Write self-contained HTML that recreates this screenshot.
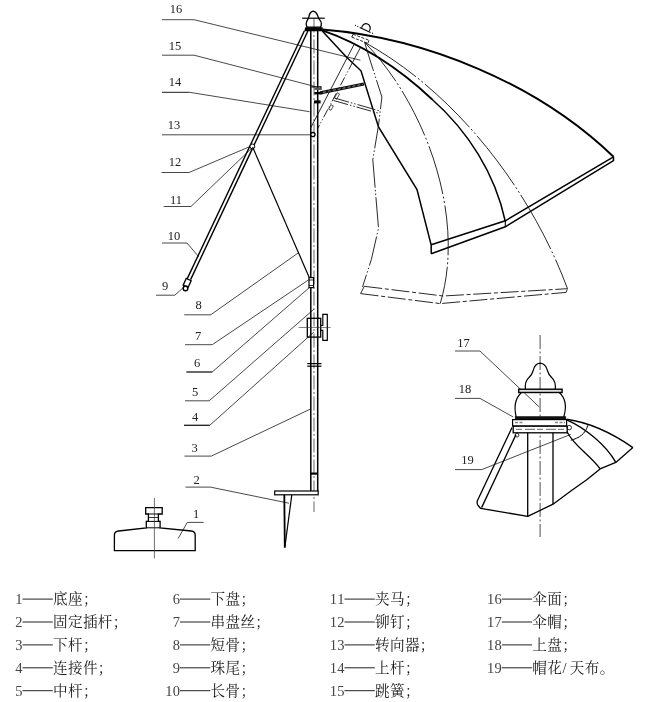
<!DOCTYPE html>
<html><head><meta charset="utf-8"><title>Umbrella diagram</title>
<style>
html,body{margin:0;padding:0;background:#fff;}
body{width:659px;height:702px;overflow:hidden;font-family:"Liberation Serif",serif;}
svg{display:block;}
svg text{font-family:"Liberation Serif",serif;}
svg text.cjk{font-family:"Liberation Serif","Noto Serif CJK SC",serif;}
svg{filter:grayscale(1);}
</style></head><body>
<svg role="img" aria-label="Umbrella structure diagram with numbered parts" width="659" height="702" viewBox="0 0 659 702">
<rect width="659" height="702" fill="#fff"/>
<text x="176" y="13" font-size="12.5" text-anchor="middle" fill="#222" letter-spacing="0" >16</text>
<path d="M162.0 19.7 L194.0 19.7" stroke="#1a1a1a" stroke-width="0.8" fill="none" />
<path d="M194.0 19.7 L360.4 60.2" stroke="#1a1a1a" stroke-width="0.8" fill="none" />
<text x="175" y="49.5" font-size="12.5" text-anchor="middle" fill="#222" letter-spacing="0" >15</text>
<path d="M162.0 55.2 L194.0 55.2" stroke="#1a1a1a" stroke-width="0.8" fill="none" />
<path d="M194.0 55.2 L315.0 86.5" stroke="#1a1a1a" stroke-width="0.8" fill="none" />
<text x="175" y="86" font-size="12.5" text-anchor="middle" fill="#222" letter-spacing="0" >14</text>
<path d="M162.0 92.3 L189.5 92.3" stroke="#1a1a1a" stroke-width="1.0" fill="none" />
<path d="M189.5 92.3 L309.5 111.7" stroke="#1a1a1a" stroke-width="0.8" fill="none" />
<text x="174" y="128.5" font-size="12.5" text-anchor="middle" fill="#222" letter-spacing="0" >13</text>
<path d="M162.0 134.8 L189.0 134.8" stroke="#1a1a1a" stroke-width="0.8" fill="none" />
<path d="M189.0 134.8 L311.0 134.8" stroke="#1a1a1a" stroke-width="0.8" fill="none" />
<text x="175" y="165.5" font-size="12.5" text-anchor="middle" fill="#222" letter-spacing="0" >12</text>
<path d="M161.5 172.5 L189.0 172.5" stroke="#1a1a1a" stroke-width="0.8" fill="none" />
<path d="M189.0 172.5 L251.7 145.8" stroke="#1a1a1a" stroke-width="0.8" fill="none" />
<text x="176" y="204" font-size="12.5" text-anchor="middle" fill="#222" letter-spacing="0" >11</text>
<path d="M163.7 206.5 L191.0 206.5" stroke="#1a1a1a" stroke-width="0.8" fill="none" />
<path d="M191.0 206.5 L252.6 147.3" stroke="#1a1a1a" stroke-width="0.8" fill="none" />
<text x="174" y="239.5" font-size="12.5" text-anchor="middle" fill="#222" letter-spacing="0" >10</text>
<path d="M162.0 243.0 L187.0 243.0" stroke="#1a1a1a" stroke-width="0.8" fill="none" />
<path d="M187.0 243.0 L198.6 256.6" stroke="#1a1a1a" stroke-width="0.8" fill="none" />
<text x="165" y="290" font-size="12.5" text-anchor="middle" fill="#222" letter-spacing="0" >9</text>
<path d="M156.0 295.2 L174.8 295.2" stroke="#1a1a1a" stroke-width="0.8" fill="none" />
<path d="M174.8 295.2 L182.8 288.0" stroke="#1a1a1a" stroke-width="0.8" fill="none" />
<text x="198.6" y="309" font-size="12.5" text-anchor="middle" fill="#222" letter-spacing="0" >8</text>
<path d="M184.3 314.8 L210.7 314.8" stroke="#1a1a1a" stroke-width="0.8" fill="none" />
<path d="M210.7 314.8 L298.7 252.6" stroke="#1a1a1a" stroke-width="0.8" fill="none" />
<text x="198" y="340" font-size="12.5" text-anchor="middle" fill="#222" letter-spacing="0" >7</text>
<path d="M185.0 344.7 L212.2 344.7" stroke="#1a1a1a" stroke-width="0.8" fill="none" />
<path d="M212.2 344.7 L309.3 279.4" stroke="#1a1a1a" stroke-width="0.8" fill="none" />
<text x="197" y="366.5" font-size="12.5" text-anchor="middle" fill="#222" letter-spacing="0" >6</text>
<path d="M186.4 372.0 L212.2 372.0" stroke="#1a1a1a" stroke-width="1.3" fill="none" />
<path d="M212.2 372.0 L310.0 287.0" stroke="#1a1a1a" stroke-width="0.8" fill="none" />
<text x="195" y="395.5" font-size="12.5" text-anchor="middle" fill="#222" letter-spacing="0" >5</text>
<path d="M185.0 400.8 L209.2 400.8" stroke="#1a1a1a" stroke-width="0.8" fill="none" />
<path d="M209.2 400.8 L313.9 309.2" stroke="#1a1a1a" stroke-width="0.8" fill="none" />
<text x="195" y="420.5" font-size="12.5" text-anchor="middle" fill="#222" letter-spacing="0" >4</text>
<path d="M184.0 425.3 L209.8 425.3" stroke="#1a1a1a" stroke-width="1.3" fill="none" />
<path d="M209.8 425.3 L313.9 332.0" stroke="#1a1a1a" stroke-width="0.8" fill="none" />
<text x="194.6" y="452" font-size="12.5" text-anchor="middle" fill="#222" letter-spacing="0" >3</text>
<path d="M184.5 456.1 L211.3 456.1" stroke="#1a1a1a" stroke-width="0.8" fill="none" />
<path d="M211.3 456.1 L310.5 409.0" stroke="#1a1a1a" stroke-width="0.8" fill="none" />
<text x="196.7" y="483.5" font-size="12.5" text-anchor="middle" fill="#222" letter-spacing="0" >2</text>
<path d="M185.5 487.1 L210.3 487.1" stroke="#1a1a1a" stroke-width="0.8" fill="none" />
<path d="M210.3 487.1 L288.9 503.2" stroke="#1a1a1a" stroke-width="0.8" fill="none" />
<text x="196.2" y="517.5" font-size="12.5" text-anchor="middle" fill="#222" letter-spacing="0" >1</text>
<path d="M203.7 522.4 L187.3 522.4" stroke="#1a1a1a" stroke-width="0.8" fill="none" />
<path d="M187.3 522.4 L178.2 538.4" stroke="#1a1a1a" stroke-width="0.8" fill="none" />
<text x="463.4" y="347" font-size="12.5" text-anchor="middle" fill="#222" letter-spacing="0" >17</text>
<path d="M455.0 351.0 L480.0 351.0" stroke="#1a1a1a" stroke-width="0.8" fill="none" />
<path d="M480.0 351.0 L539.3 407.0" stroke="#1a1a1a" stroke-width="0.8" fill="none" />
<text x="465" y="393" font-size="12.5" text-anchor="middle" fill="#222" letter-spacing="0" >18</text>
<path d="M455.0 398.4 L480.0 398.4" stroke="#1a1a1a" stroke-width="0.8" fill="none" />
<path d="M480.0 398.4 L513.2 417.0" stroke="#1a1a1a" stroke-width="0.8" fill="none" />
<text x="467.6" y="464" font-size="12.5" text-anchor="middle" fill="#222" letter-spacing="0" >19</text>
<path d="M455.0 469.6 L481.8 469.6" stroke="#1a1a1a" stroke-width="0.8" fill="none" />
<path d="M481.8 469.6 L570.7 434.4" stroke="#1a1a1a" stroke-width="0.8" fill="none" />
<path d="M310.8 30.0 L310.8 491.0" stroke="#000" stroke-width="1.5" fill="none" />
<path d="M317.7 30.0 L317.7 491.0" stroke="#000" stroke-width="1.5" fill="none" />
<path d="M314.0 18.5 L314.0 512.0" stroke="#555" stroke-width="0.9" fill="none" stroke-dasharray="14 2.5 2 2.5" />
<path d="M313.2 11.1 C311 11.3 309.9 13 309.3 15 C308.9 16.5 308.8 17.3 308.5 18.2 C307.5 20 306.2 21.5 306.2 23.5 C306.2 25.2 306.6 26.3 307.1 27.2 L320.5 27.2 C321 26.3 321.4 25.2 321.4 23.5 C321.4 21.5 320 20 318.6 18.2 C318.2 17.3 318 16.5 317.4 15 C316.6 13 315.4 11.3 313.2 11.1 Z" stroke="#000" stroke-width="1.3" fill="none" />
<path d="M302.2 18.2 L324.8 18.2" stroke="#000" stroke-width="1.2" fill="none" />
<path d="M305.3 27.2 L322.7 27.2 L322.7 31.3 L304.2 31.3 Z" stroke="#000" stroke-width="0" fill="#000" />
<path d="M304.3 31.0 L186.8 279.6" stroke="#000" stroke-width="1.4" fill="none" />
<path d="M307.9 31.0 L190.6 279.6" stroke="#000" stroke-width="1.4" fill="none" />
<rect x="-2.7" y="0" width="5.4" height="7.4" transform="translate(188.7,279.6) rotate(24.5)" fill="#fff" stroke="#000" stroke-width="1.3"/>
<circle cx="185.5" cy="288.4" r="2.3" fill="#fff" stroke="#000" stroke-width="1.5"/>
<circle cx="252.4" cy="146.4" r="2.4" fill="#fff" stroke="#000" stroke-width="1"/>
<path d="M252.6 147.0 L310.0 279.3" stroke="#000" stroke-width="1.2" fill="none" />
<rect x="309" y="277.6" width="4.6" height="10" fill="#fff" stroke="#000" stroke-width="1.2"/>
<path d="M309.0 280.0 L313.6 280.0" stroke="#000" stroke-width="0.8" fill="none" />
<path d="M309.0 285.5 L313.6 285.5" stroke="#000" stroke-width="0.8" fill="none" />
<circle cx="312.9" cy="134.6" r="2.1" fill="#fff" stroke="#000" stroke-width="1.3"/>
<path d="M311.4 86.9 L320.9 86.9 L320.9 90.0" stroke="#000" stroke-width="1.3" fill="none" />
<rect x="314.4" y="87.6" width="6.5" height="2.3" fill="#555"/>
<rect x="314.4" y="92" width="8" height="2.4" fill="#000"/>
<rect x="314" y="100.4" width="6.6" height="3" fill="#000"/>
<path d="M320.0 92.9 L364.0 84.0" stroke="#111" stroke-width="3.2" fill="none" />
<path d="M323.0 92.3 L363.0 84.2" stroke="#aaa" stroke-width="0.8" fill="none" stroke-dasharray="3 2" />
<rect x="307.3" y="318.3" width="13.4" height="18.8" fill="none" stroke="#000" stroke-width="1.3"/>
<path d="M320.7 325.5 L322.8 325.5 L322.8 314.4 L327.3 314.4 L327.3 340.4 L322.8 340.4 L322.8 330.4 L320.7 330.4" stroke="#000" stroke-width="1.2" fill="none" />
<path d="M298.7 327.5 L330.6 327.5" stroke="#333" stroke-width="0.6" fill="none" />
<path d="M307.2 363.6 L321.5 363.6" stroke="#000" stroke-width="1.2" fill="none" />
<path d="M307.2 366.2 L321.5 366.2" stroke="#000" stroke-width="1.2" fill="none" />
<path d="M310.8 473.6 L317.7 473.6" stroke="#000" stroke-width="2.2" fill="none" />
<rect x="274.7" y="491" width="43.5" height="3.8" fill="#fff" stroke="#000" stroke-width="1.2"/>
<path d="M284.3 494.8 L284.8 547.6" stroke="#000" stroke-width="1.8" fill="none" />
<path d="M291.8 494.8 L284.8 547.6" stroke="#000" stroke-width="1.2" fill="none" />
<path d="M114.4 550.6 L114.4 535 Q114.4 531.5 118.7 531 L146.3 527.8 L146.3 521.4 L148.4 521.4 L148.4 514 L145.7 514 L145.7 507.6 L162.2 507.6 L162.2 514 L158.4 514 L158.4 521.4 L160.1 521.4 L160.1 527.8 L191.3 531 Q195.2 531.5 195.2 535 L195.2 550.6 Z" stroke="#000" stroke-width="1.3" fill="none" />
<path d="M148.4 514.0 L158.4 514.0" stroke="#000" stroke-width="1.0" fill="none" />
<path d="M148.4 517.5 L158.4 517.5" stroke="#000" stroke-width="0.8" fill="none" />
<path d="M146.3 521.4 L160.1 521.4" stroke="#000" stroke-width="1.0" fill="none" />
<path d="M146.3 527.8 L160.1 527.8" stroke="#000" stroke-width="1.0" fill="none" />
<path d="M154.4 498.0 L154.4 558.4" stroke="#333" stroke-width="0.7" fill="none" />
<path d="M322.3 29.5 C426.8 37.8 538.2 84.2 613.5 156.8" stroke="#000" stroke-width="1.9" fill="none" />
<path d="M322.3 30.4 C362.8 44.4 400.8 70.0 432.0 99.2" stroke="#000" stroke-width="1.9" fill="none" />
<path d="M432.0 99.2 C467.9 131.0 495.2 173.8 505.2 221.0" stroke="#000" stroke-width="1.5" fill="none" stroke-linecap="round"/>
<path d="M322.3 31.0 L346.6 57.2 L361.0 70.8 L378.5 127.0 L417.0 189.6 L431.2 245.0 L431.2 253.7" stroke="#000" stroke-width="1.5" fill="none" />
<path d="M613.5 156.8 L505.3 220.8 L431.2 244.8" stroke="#000" stroke-width="1.5" fill="none" />
<path d="M613.5 156.8 L613.5 160.6 L505.3 226.8 L431.2 253.7" stroke="#000" stroke-width="1.5" fill="none" />
<path d="M505.3 220.4 L505.3 226.5" stroke="#000" stroke-width="1.1" fill="none" />
<path d="M361.7 27.8 A4.3 4.3 0 1 1 369.3 30.8" stroke="#000" stroke-width="1.2" fill="none" />
<path d="M355.0 25.2 L372.9 33.5" stroke="#000" stroke-width="1.1" fill="none" stroke-dasharray="1 1.6 1 1.6 12 1.6 1 1.6" />
<path d="M353.0 34.2 L369.0 40.3" stroke="#111" stroke-width="0.9" fill="none" stroke-dasharray="3 1.5" />
<path d="M351.8 37.2 L367.8 43.3" stroke="#111" stroke-width="0.9" fill="none" stroke-dasharray="3 1.5" />
<path d="M353.0 34.2 L351.8 37.2" stroke="#111" stroke-width="0.9" fill="none" />
<path d="M369.0 40.3 L367.8 43.3" stroke="#111" stroke-width="0.9" fill="none" />
<path d="M354.0 44.6 L310.4 128.4" stroke="#111" stroke-width="0.9" fill="none" />
<path d="M360.5 47.3 L353.0 61.5" stroke="#111" stroke-width="0.9" fill="none" />
<path d="M353.0 61.5 L317.8 128.4" stroke="#111" stroke-width="0.9" fill="none" stroke-dasharray="9 2.2 1.2 2.2 1.2 2.2" />
<path d="M334.5 98.0 L380.0 111.0" stroke="#111" stroke-width="0.9" fill="none" stroke-dasharray="15 2 1.5 2 1.5 2" />
<path d="M333.5 100.5 L379.5 113.5" stroke="#111" stroke-width="0.9" fill="none" stroke-dasharray="15 2 1.5 2 1.5 2" />
<rect x="-1.3" y="-3" width="2.6" height="6" transform="translate(337,96) rotate(28)" fill="none" stroke="#222" stroke-width="0.7"/>
<rect x="-1.3" y="-2.5" width="2.6" height="5" transform="translate(331,107.5) rotate(28)" fill="none" stroke="#222" stroke-width="0.7"/>
<path d="M364.6 42.3 L370.0 60.0 L381.9 97.0 L378.5 125.5 L372.8 159.7 L378.5 228.1 L371.4 259.4 L362.5 287.0" stroke="#111" stroke-width="0.9" fill="none" stroke-dasharray="30 2.2 1.5 2.2 1.5 2.2" />
<path d="M364.6 42.3 C457.3 93.6 531.1 190.8 567.5 288.7" stroke="#111" stroke-width="0.9" fill="none" stroke-dasharray="62 2.5 2 2.5 2 2.5" />
<path d="M364.6 42.3 C425.7 104.9 466.3 217.2 440.2 303.6" stroke="#111" stroke-width="0.9" fill="none" stroke-dasharray="50 2.5 2 2.5 2 2.5" />
<path d="M364.3 286.3 L443.2 296.0 L567.5 288.7" stroke="#111" stroke-width="0.9" fill="none" stroke-dasharray="18 2.7 4 2.7" />
<path d="M360.6 293.6 L440.2 303.6 L566.0 292.4 L567.5 288.7" stroke="#111" stroke-width="0.9" fill="none" stroke-dasharray="18 2.7 4 2.7" />
<path d="M364.3 286.3 L360.6 293.6" stroke="#111" stroke-width="0.9" fill="none" />
<path d="M540.1 335.0 L540.1 537.0" stroke="#222" stroke-width="0.8" fill="none" stroke-dasharray="14 2.5 2 2.5" />
<path d="M540 363.2 C536.5 363.5 534 367 533 371 C532.3 374 531 375.5 529 377.5 C526 380 524.8 384 525.5 389.5 L555.2 389.5 C555.9 384 554.6 380 551.6 377.5 C549.6 375.5 548.3 374 547.6 371 C546.6 367 544 363.5 540 363.2Z" stroke="#000" stroke-width="1.2" fill="none" />
<rect x="518.7" y="389.2" width="43.4" height="3.3" fill="#ddd" stroke="#000" stroke-width="1.4"/>
<path d="M521.5 392.5 C515.5 398 513.8 407 516.2 417 M559.3 392.5 C565.3 398 566.8 407 563.7 417" stroke="#000" stroke-width="1.2" fill="none" />
<rect x="515.2" y="416.7" width="50.6" height="2.6" fill="#111" stroke="#000" stroke-width="0.6"/>
<rect x="512.6" y="419.6" width="54" height="6.4" fill="#fff" stroke="#000" stroke-width="1.2"/>
<rect x="513.2" y="426.2" width="54" height="6.6" fill="#fff" stroke="#000" stroke-width="1.3"/>
<path d="M515.0 422.5 L524.0 422.5" stroke="#888" stroke-width="1.6" fill="none" stroke-dasharray="3 1.5" />
<path d="M555.0 422.5 L565.0 422.5" stroke="#888" stroke-width="1.6" fill="none" stroke-dasharray="3 1.5" />
<path d="M516.0 429.3 L566.0 429.3" stroke="#666" stroke-width="1.0" fill="none" stroke-dasharray="6 3 10 2" />
<circle cx="517" cy="435.2" r="1.9" fill="#fff" stroke="#000" stroke-width="0.8"/>
<circle cx="569.3" cy="427.6" r="2.2" fill="none" stroke="#000" stroke-width="0.8"/>
<path d="M527.7 432.8 L527.7 516.4" stroke="#000" stroke-width="1.3" fill="none" />
<path d="M553.0 432.8 L553.0 504.2" stroke="#000" stroke-width="1.3" fill="none" />
<path d="M512 427.5 L477.6 500.3 Q476.3 503.5 478.3 505.8 L480.5 508.3 L527.7 516.4 L553 504.2 L572.2 490 L586.4 480 L600.1 468.9 L615.8 462.4 L632.9 447.6" stroke="#000" stroke-width="1.3" fill="none" stroke-linejoin="round"/>
<path d="M516.0 434.6 L481.6 507.6" stroke="#000" stroke-width="1.3" fill="none" />
<path d="M566.6 419.3 C590.2 422.6 613.4 434.1 632.9 447.6" stroke="#000" stroke-width="1.4" fill="none" />
<path d="M566.6 419.8 C584.6 427.5 606.3 445.1 615.8 462.4" stroke="#000" stroke-width="1.3" fill="none" />
<path d="M566.8 431.5 C574.6 446.7 590.3 455.2 600.1 468.9" stroke="#000" stroke-width="1.3" fill="none" />
<path d="M587.8 425.2 C585.4 434.0 579.3 438.1 570.7 440.2" stroke="#000" stroke-width="1.0" fill="none" />
<g aria-label="1——底座；">
<text x="18.75" y="604.1" font-size="14.5" text-anchor="middle" fill="#444" letter-spacing="0" >1</text>
<path d="M22.5 599.1 L52.8 599.1" stroke="#222" stroke-width="1.0" fill="none" />
<text class="cjk" x="52.9" y="604.4" font-size="14.6" letter-spacing="0.4" fill="#1a1a1a">底座；</text>
</g>
<g aria-label="2——固定插杆；">
<text x="18.75" y="627.0" font-size="14.5" text-anchor="middle" fill="#444" letter-spacing="0" >2</text>
<path d="M22.5 622.0 L52.8 622.0" stroke="#222" stroke-width="1.0" fill="none" />
<text class="cjk" x="52.9" y="627.3" font-size="14.6" letter-spacing="0.4" fill="#1a1a1a">固定插杆；</text>
</g>
<g aria-label="3——下杆；">
<text x="18.75" y="649.9" font-size="14.5" text-anchor="middle" fill="#444" letter-spacing="0" >3</text>
<path d="M22.5 644.9 L52.8 644.9" stroke="#222" stroke-width="1.0" fill="none" />
<text class="cjk" x="52.9" y="650.2" font-size="14.6" letter-spacing="0.4" fill="#1a1a1a">下杆；</text>
</g>
<g aria-label="4——连接件；">
<text x="18.75" y="672.8" font-size="14.5" text-anchor="middle" fill="#444" letter-spacing="0" >4</text>
<path d="M22.5 667.8 L52.8 667.8" stroke="#222" stroke-width="1.0" fill="none" />
<text class="cjk" x="52.9" y="673.1" font-size="14.6" letter-spacing="0.4" fill="#1a1a1a">连接件；</text>
</g>
<g aria-label="5——中杆；">
<text x="18.75" y="695.7" font-size="14.5" text-anchor="middle" fill="#444" letter-spacing="0" >5</text>
<path d="M22.5 690.7 L52.8 690.7" stroke="#222" stroke-width="1.0" fill="none" />
<text class="cjk" x="52.9" y="696.0" font-size="14.6" letter-spacing="0.4" fill="#1a1a1a">中杆；</text>
</g>
<g aria-label="6——下盘；">
<text x="176.25" y="604.1" font-size="14.5" text-anchor="middle" fill="#444" letter-spacing="0" >6</text>
<path d="M180.0 599.1 L210.3 599.1" stroke="#222" stroke-width="1.0" fill="none" />
<text class="cjk" x="210.4" y="604.4" font-size="14.6" letter-spacing="0.4" fill="#1a1a1a">下盘；</text>
</g>
<g aria-label="7——串盘丝；">
<text x="176.25" y="627.0" font-size="14.5" text-anchor="middle" fill="#444" letter-spacing="0" >7</text>
<path d="M180.0 622.0 L210.3 622.0" stroke="#222" stroke-width="1.0" fill="none" />
<text class="cjk" x="210.4" y="627.3" font-size="14.6" letter-spacing="0.4" fill="#1a1a1a">串盘丝；</text>
</g>
<g aria-label="8——短骨；">
<text x="176.25" y="649.9" font-size="14.5" text-anchor="middle" fill="#444" letter-spacing="0" >8</text>
<path d="M180.0 644.9 L210.3 644.9" stroke="#222" stroke-width="1.0" fill="none" />
<text class="cjk" x="210.4" y="650.2" font-size="14.6" letter-spacing="0.4" fill="#1a1a1a">短骨；</text>
</g>
<g aria-label="9——珠尾；">
<text x="176.25" y="672.8" font-size="14.5" text-anchor="middle" fill="#444" letter-spacing="0" >9</text>
<path d="M180.0 667.8 L210.3 667.8" stroke="#222" stroke-width="1.0" fill="none" />
<text class="cjk" x="210.4" y="673.1" font-size="14.6" letter-spacing="0.4" fill="#1a1a1a">珠尾；</text>
</g>
<g aria-label="10——长骨；">
<text x="176.25" y="695.7" font-size="14.5" text-anchor="middle" fill="#444" letter-spacing="0" >0</text>
<text x="168.75" y="695.7" font-size="14.5" text-anchor="middle" fill="#444" letter-spacing="0" >1</text>
<path d="M180.0 690.7 L210.3 690.7" stroke="#222" stroke-width="1.0" fill="none" />
<text class="cjk" x="210.4" y="696.0" font-size="14.6" letter-spacing="0.4" fill="#1a1a1a">长骨；</text>
</g>
<g aria-label="11——夹马；">
<text x="340.75" y="604.1" font-size="14.5" text-anchor="middle" fill="#444" letter-spacing="0" >1</text>
<text x="333.25" y="604.1" font-size="14.5" text-anchor="middle" fill="#444" letter-spacing="0" >1</text>
<path d="M344.5 599.1 L374.8 599.1" stroke="#222" stroke-width="1.0" fill="none" />
<text class="cjk" x="374.9" y="604.4" font-size="14.6" letter-spacing="0.4" fill="#1a1a1a">夹马；</text>
</g>
<g aria-label="12——铆钉；">
<text x="340.75" y="627.0" font-size="14.5" text-anchor="middle" fill="#444" letter-spacing="0" >2</text>
<text x="333.25" y="627.0" font-size="14.5" text-anchor="middle" fill="#444" letter-spacing="0" >1</text>
<path d="M344.5 622.0 L374.8 622.0" stroke="#222" stroke-width="1.0" fill="none" />
<text class="cjk" x="374.9" y="627.3" font-size="14.6" letter-spacing="0.4" fill="#1a1a1a">铆钉；</text>
</g>
<g aria-label="13——转向器；">
<text x="340.75" y="649.9" font-size="14.5" text-anchor="middle" fill="#444" letter-spacing="0" >3</text>
<text x="333.25" y="649.9" font-size="14.5" text-anchor="middle" fill="#444" letter-spacing="0" >1</text>
<path d="M344.5 644.9 L374.8 644.9" stroke="#222" stroke-width="1.0" fill="none" />
<text class="cjk" x="374.9" y="650.2" font-size="14.6" letter-spacing="0.4" fill="#1a1a1a">转向器；</text>
</g>
<g aria-label="14——上杆；">
<text x="340.75" y="672.8" font-size="14.5" text-anchor="middle" fill="#444" letter-spacing="0" >4</text>
<text x="333.25" y="672.8" font-size="14.5" text-anchor="middle" fill="#444" letter-spacing="0" >1</text>
<path d="M344.5 667.8 L374.8 667.8" stroke="#222" stroke-width="1.0" fill="none" />
<text class="cjk" x="374.9" y="673.1" font-size="14.6" letter-spacing="0.4" fill="#1a1a1a">上杆；</text>
</g>
<g aria-label="15——跳簧；">
<text x="340.75" y="695.7" font-size="14.5" text-anchor="middle" fill="#444" letter-spacing="0" >5</text>
<text x="333.25" y="695.7" font-size="14.5" text-anchor="middle" fill="#444" letter-spacing="0" >1</text>
<path d="M344.5 690.7 L374.8 690.7" stroke="#222" stroke-width="1.0" fill="none" />
<text class="cjk" x="374.9" y="696.0" font-size="14.6" letter-spacing="0.4" fill="#1a1a1a">跳簧；</text>
</g>
<g aria-label="16——伞面；">
<text x="498.05" y="604.1" font-size="14.5" text-anchor="middle" fill="#444" letter-spacing="0" >6</text>
<text x="490.55" y="604.1" font-size="14.5" text-anchor="middle" fill="#444" letter-spacing="0" >1</text>
<path d="M501.8 599.1 L532.1 599.1" stroke="#222" stroke-width="1.0" fill="none" />
<text class="cjk" x="532.2" y="604.4" font-size="14.6" letter-spacing="0.4" fill="#1a1a1a">伞面；</text>
</g>
<g aria-label="17——伞帽；">
<text x="498.05" y="627.0" font-size="14.5" text-anchor="middle" fill="#444" letter-spacing="0" >7</text>
<text x="490.55" y="627.0" font-size="14.5" text-anchor="middle" fill="#444" letter-spacing="0" >1</text>
<path d="M501.8 622.0 L532.1 622.0" stroke="#222" stroke-width="1.0" fill="none" />
<text class="cjk" x="532.2" y="627.3" font-size="14.6" letter-spacing="0.4" fill="#1a1a1a">伞帽；</text>
</g>
<g aria-label="18——上盘；">
<text x="498.05" y="649.9" font-size="14.5" text-anchor="middle" fill="#444" letter-spacing="0" >8</text>
<text x="490.55" y="649.9" font-size="14.5" text-anchor="middle" fill="#444" letter-spacing="0" >1</text>
<path d="M501.8 644.9 L532.1 644.9" stroke="#222" stroke-width="1.0" fill="none" />
<text class="cjk" x="532.2" y="650.2" font-size="14.6" letter-spacing="0.4" fill="#1a1a1a">上盘；</text>
</g>
<g aria-label="19——帽花/天布。">
<text x="498.05" y="672.8" font-size="14.5" text-anchor="middle" fill="#444" letter-spacing="0" >9</text>
<text x="490.55" y="672.8" font-size="14.5" text-anchor="middle" fill="#444" letter-spacing="0" >1</text>
<path d="M501.8 667.8 L532.1 667.8" stroke="#222" stroke-width="1.0" fill="none" />
<text class="cjk" x="532.2" y="673.1" font-size="14.6" letter-spacing="0.4" fill="#1a1a1a">帽花</text>
<text class="cjk" x="562.6" y="673.1" font-size="14.6" fill="#1a1a1a">/</text>
<text class="cjk" x="569.7" y="673.1" font-size="14.6" letter-spacing="0.4" fill="#1a1a1a">天布。</text>
</g>
</svg>
</body></html>
